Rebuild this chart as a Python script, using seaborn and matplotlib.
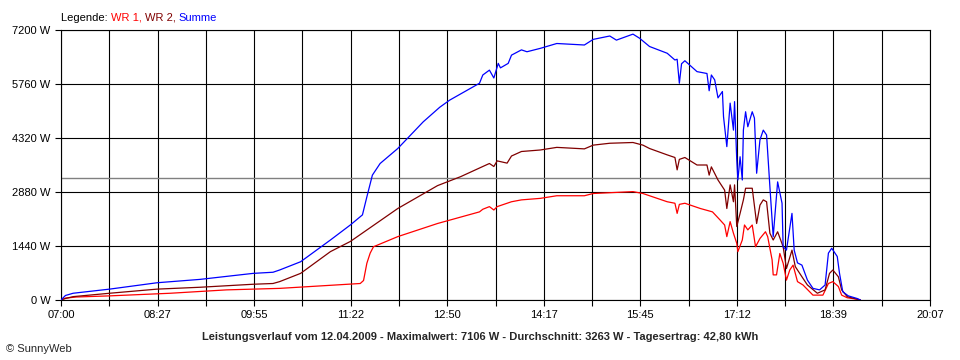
import numpy as np
import pandas as pd
import matplotlib
matplotlib.use("Agg")
import matplotlib.pyplot as plt
import seaborn as sns

# time in minutes after 07:00, power in W
wr1_time = [0, 4, 14, 44, 99, 150, 198, 271, 274, 277, 280, 283, 305, 341, 379, 382, 388, 392, 395,
            408, 417, 434, 449, 474, 482, 518, 527, 549, 556, 558, 560, 565, 579, 590, 597, 601, 603,
            606, 609, 612, 613, 617, 619, 622, 626, 629, 633, 638, 640, 644, 645, 648, 651,
            654, 657, 660, 663, 667, 672, 681, 690, 695, 699, 704, 707, 712, 721, 724]
wr1_power = [0, 50, 80, 110, 180, 270, 310, 440, 520, 980, 1250, 1420, 1690, 2040, 2350, 2420, 2490, 2400, 2490,
             2620, 2670, 2710, 2780, 2780, 2840, 2890, 2840, 2620, 2580, 2310, 2550, 2580, 2440, 2350, 2130, 2000, 1690,
             2090, 1780, 1510, 1290, 1600, 2000, 1870, 2000, 1420, 1640, 1820, 1690, 1070, 670, 670, 1240,
             980, 530, 800, 930, 490, 400, 130, 130, 440, 490, 360, 130, 60, 20, 0]

wr2_time = [0, 4, 11, 44, 87, 126, 174, 192, 198, 217, 244, 262, 305, 341, 362, 382, 388, 392, 395,
            404, 408, 417, 434, 449, 474, 482, 497, 518, 527, 533, 549, 556, 558, 560, 565, 576, 585, 587, 589, 595,
            601, 603, 606, 609, 610, 612, 615, 618, 620, 626, 630, 633, 636, 639, 642, 645, 649,
            654, 657, 662, 665, 671, 676, 685, 692, 696, 699, 704, 707, 712, 721, 724]
wr2_power = [0, 40, 90, 180, 290, 340, 420, 440, 490, 710, 1290, 1560, 2440, 3050, 3290, 3560, 3640, 3560, 3710,
             3650, 3840, 3960, 4000, 4070, 4030, 4130, 4180, 4200, 4130, 4040, 3870, 3800, 3470, 3750, 3800, 3600, 3600, 3330, 3550, 3200,
             2930, 2440, 3070, 2620, 3070, 1960, 2310, 2670, 2980, 2980, 2040, 2530, 2670, 2620, 1780, 1600, 1820,
             1420, 840, 1330, 890, 620, 400, 180, 270, 710, 800, 620, 270, 90, 20, 0]

sum_time = [0, 4, 11, 44, 87, 126, 174, 192, 198, 217, 244, 262, 273, 277, 282, 289, 305, 328, 343, 352,
            379, 382, 388, 392, 396, 398, 405, 408, 417, 422, 434, 449, 474, 482, 497, 503, 518, 524,
            533, 549, 556, 558, 560,
            562, 565, 576, 585, 587, 589, 592, 595, 599, 600, 603, 606, 609, 610, 612, 613, 615,
            617, 618, 620, 622, 626, 628, 630, 633, 636, 639, 642, 645, 649, 653, 654, 657, 662,
            664, 667, 671, 676, 681, 687, 692, 695, 698, 703, 705, 708, 713, 721, 724]
sum_power = [0, 120, 180, 290, 460, 550, 710, 740, 800, 1020, 1600, 2000, 2270, 2750, 3330, 3640, 4040, 4750, 5140, 5330,
             5780, 6000, 6130, 5920, 6310, 6190, 6310, 6530, 6670, 6620, 6710, 6840, 6800, 6950, 7040, 6930, 7090, 6980,
             6760, 6580, 6400, 6420, 5780,
             6300, 6380, 6090, 6040, 5580, 6000, 5870, 5390, 5560, 4890, 4090, 5250, 4530, 5290, 3730, 3200, 3820,
             3200, 4530, 5020, 4620, 5020, 4850, 3380, 4270, 4530, 4400, 3020, 1690, 3150, 2580, 1420, 1330, 2310,
             1330, 990, 930, 530, 310, 270, 400, 1250, 1380, 1160, 720, 220, 110, 40, 0]

x_labels = ["07:00", "08:27", "09:55", "11:22", "12:50", "14:17", "15:45", "17:12", "18:39", "20:07"]
y_ticks = [0, 1440, 2880, 4320, 5760, 7200]
average_w = 3263
day_span = 787  # minutes from 07:00 to 20:07

colors = {"WR 1": "#ff0000", "WR 2": "#800000", "Summe": "#0000ff"}

df = pd.concat([
    pd.DataFrame({"min": wr1_time, "power": wr1_power, "serie": "WR 1"}),
    pd.DataFrame({"min": wr2_time, "power": wr2_power, "serie": "WR 2"}),
    pd.DataFrame({"min": sum_time, "power": sum_power, "serie": "Summe"}),
])

sns.set_style("white")
plt.rcParams["font.family"] = ["Liberation Sans", "DejaVu Sans"]
plt.rcParams["font.size"] = 8

fig = plt.figure(figsize=(9.6, 3.6), dpi=100)
ax = fig.add_axes([61 / 960, 60 / 360, 869 / 960, 270 / 360])

ax.axhline(average_w, color="#808080", lw=1.0, zorder=2.5)
sns.lineplot(data=df, x="min", y="power", hue="serie", palette=colors,
             hue_order=["WR 1", "WR 2", "Summe"], estimator=None, sort=False,
             lw=0.9, legend=False, ax=ax, zorder=3)

ax.set_xlim(0, day_span)
ax.set_ylim(0, 7200)
ax.set_xticks(np.linspace(0, day_span, len(x_labels)))
ax.set_xticks(np.linspace(0, day_span, 2 * len(x_labels) - 1), minor=True)
ax.set_xticklabels(x_labels)
ax.set_yticks(y_ticks)
ax.set_yticklabels([f"{v} W" for v in y_ticks])
ax.set_xlabel("")
ax.set_ylabel("")

ax.grid(True, which="both", color="black", lw=0.8)
ax.set_axisbelow(True)
ax.tick_params(which="both", bottom=True, left=True, direction="out",
               length=4.5, width=0.8, color="black", labelsize=8, labelcolor="black")
ax.tick_params(axis="x", pad=3)
ax.tick_params(axis="y", pad=3)
for s in ax.spines.values():
    s.set_color("black")
    s.set_linewidth(0.8)

# coloured legend line at the top
fig.canvas.draw()
r = fig.canvas.get_renderer()
x0 = 61 / 960
for txt, col in [("Legende: ", "black"), ("WR 1, ", colors["WR 1"]),
                 ("WR 2, ", colors["WR 2"]), ("Summe", colors["Summe"])]:
    t = fig.text(x0, 1 - 21 / 360, txt, color=col, fontsize=8, va="baseline", ha="left")
    bb = t.get_window_extent(renderer=r)
    x0 = bb.x1 / fig.bbox.width

fig.text(480 / 960, 1 - 340 / 360,
         "Leistungsverlauf vom 12.04.2009 - Maximalwert: 7106 W - Durchschnitt: 3263 W - Tagesertrag: 42,80 kWh",
         fontsize=8, fontweight="bold", ha="center", va="baseline")
fig.text(6 / 960, 1 - 352 / 360, "© SunnyWeb", fontsize=8, ha="left", va="baseline")

fig.savefig("out.png", dpi=100, facecolor="white")
